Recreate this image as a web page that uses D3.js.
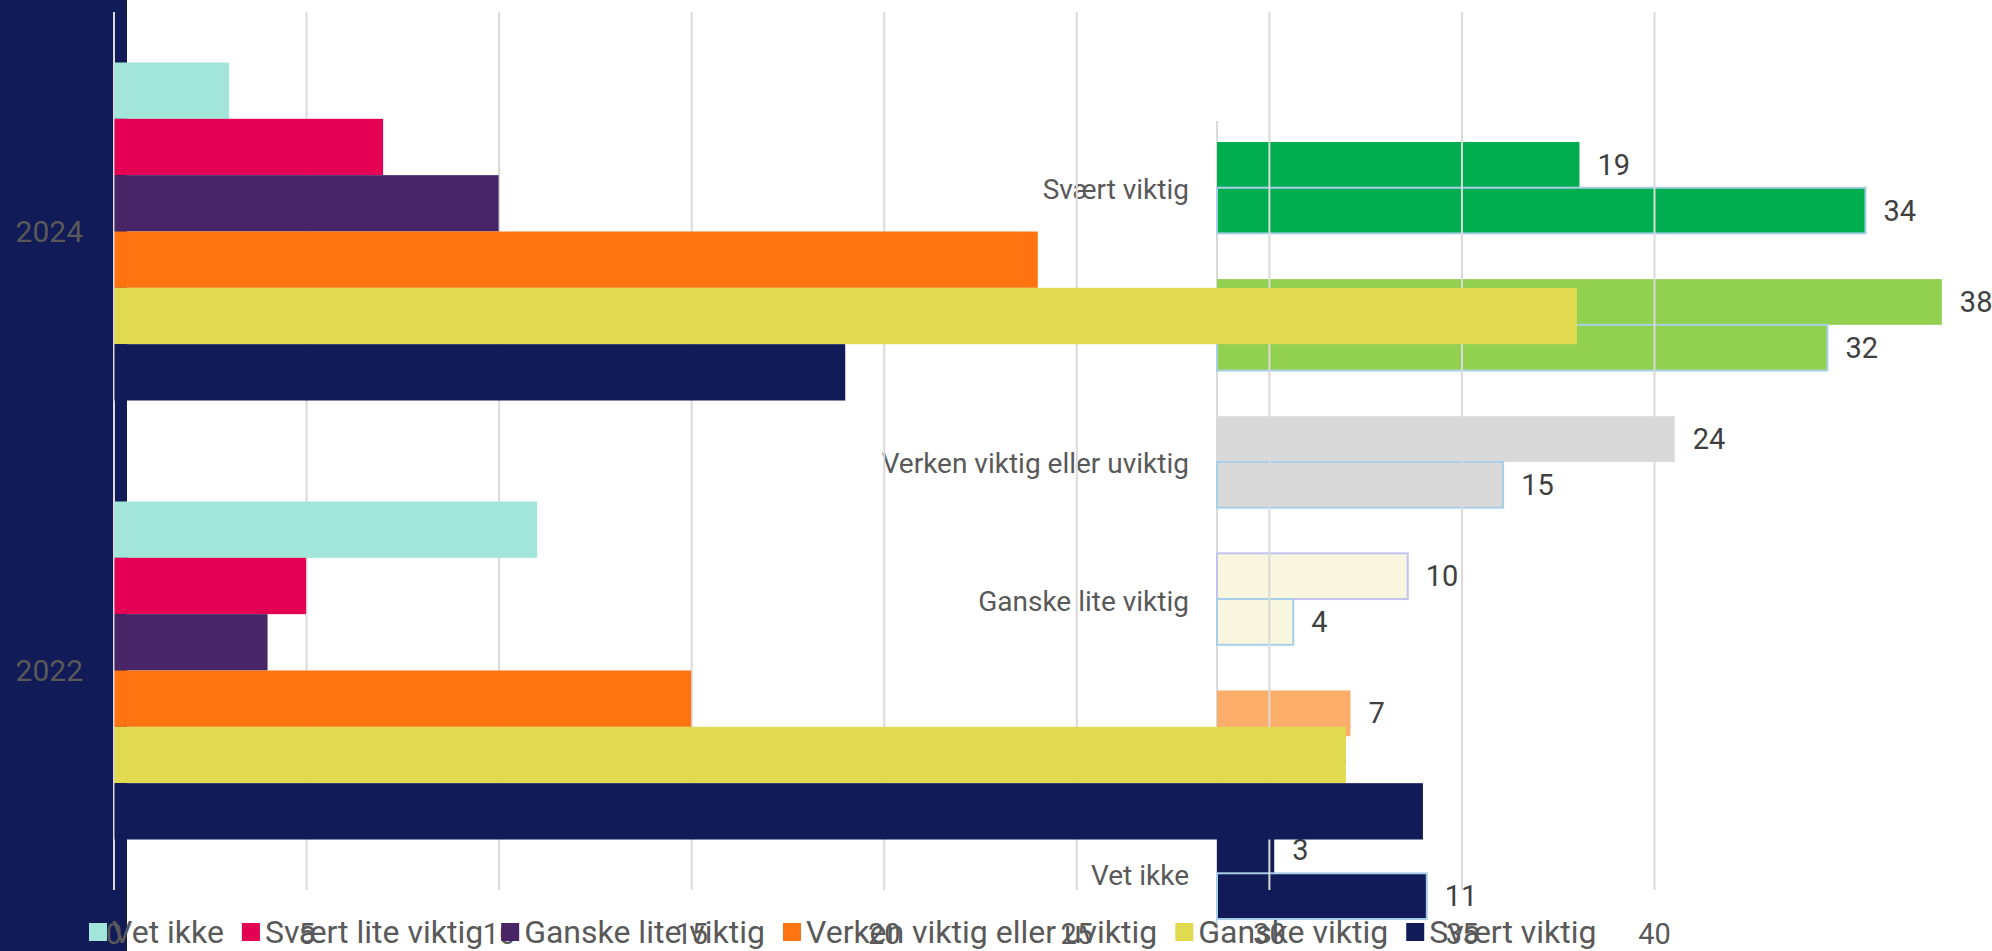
<!DOCTYPE html>
<html>
<head>
<meta charset="utf-8">
<script src="https://cdn.jsdelivr.net/npm/d3@7"></script>
<style>
  body { margin: 0; background: #fff; }
  text { font-family: Roboto, "Noto Sans", sans-serif; fill: #595959; }
</style>
</head>
<body>
<div id="chart"></div>
<script>
// Data
const years = ["2024", "2022"];
const answers = ["Vet ikke", "Svært lite viktig", "Ganske lite viktig",
                 "Verken viktig eller uviktig", "Ganske viktig", "Svært viktig"];
const values2024 = [3, 7, 10, 24, 38, 19];
const values2022 = [11, 5, 4, 15, 32, 34];
const xTicks = [0, 5, 10, 15, 20, 25, 30, 35, 40];

// colours for the grouped chart (one per answer) and the overlay chart (one per category)
const colorsA = ["#a1e6d9", "#e40052", "#472566", "#ff7411", "#e1da50", "#111b57"];
const colorsB = ["#00ae4f", "#92d050", "#d9d9d9", "#f8f6de", "#fdae6b", "#111b57"];

const width = 1992, height = 951;

const svg = d3.select("#chart")
              .append("svg")
              .attr("width", width)
              .attr("height", height);

// Scales for the grouped chart (years x answers)
const xA = d3.scaleLinear().domain([0, 40]).range([113.5, 1654]);
const yA = d3.scaleBand().domain(years).range([12, 890])
             .paddingInner(0.23).paddingOuter(0.115);
const ySeries = d3.scaleBand().domain(answers).range([0, yA.bandwidth()]);

// Scales for the overlay chart (answers x years), answers in reverse order
const catsB = answers.slice().reverse();
const xB = d3.scaleLinear().domain([0, 40]).range([1217, 1980]);
const yB = d3.scaleBand().domain(catsB).range([121, 940])
             .paddingInner(0.333).paddingOuter(0.153);
const yYear = d3.scaleBand().domain(years).range([0, yB.bandwidth()]);

const valueOf = (answer, year) => {
    const i = answers.indexOf(answer);
    return year === "2024" ? values2024[i] : values2022[i];
};

// Navy backdrop on the left
svg.append("rect")
   .attr("x", 0).attr("y", 0)
   .attr("width", xA(0) + 13.5).attr("height", height)
   .attr("fill", "#111b57");

// ---- Overlay chart (drawn first, sits underneath) ----
const gB = svg.append("g");

gB.append("line")
  .attr("x1", xB(0)).attr("x2", xB(0))
  .attr("y1", 121).attr("y2", 940)
  .attr("stroke", "#d9d9d9").attr("stroke-width", 2);

const rowsB = [];
catsB.forEach((c, ci) => {
    years.forEach(yr => rowsB.push({cat: c, year: yr, value: valueOf(c, yr), color: colorsB[ci]}));
});

gB.selectAll("rect.bar")
  .data(rowsB)
  .join("rect")
  .attr("class", "bar")
  .attr("x", xB(0))
  .attr("y", d => yB(d.cat) + yYear(d.year))
  .attr("width", d => xB(d.value) - xB(0))
  .attr("height", yYear.bandwidth())
  .attr("fill", d => d.color)
  .attr("stroke", d => d.year === "2022" ? "#a9cfe8"
                     : (d.cat === "Ganske lite viktig" ? "#c2c2f0" : "none"))
  .attr("stroke-width", 2);

gB.selectAll("text.val")
  .data(rowsB)
  .join("text")
  .attr("class", "val")
  .attr("x", d => xB(d.value) + 18)
  .attr("y", d => yB(d.cat) + yYear(d.year) + yYear.bandwidth() / 2)
  .attr("dominant-baseline", "central")
  .style("font-size", "29px")
  .style("fill", "#404040")
  .text(d => d.value);

gB.selectAll("text.cat")
  .data(catsB)
  .join("text")
  .attr("class", "cat")
  .attr("x", xB(0) - 28)
  .attr("y", d => yB(d) + yB.bandwidth() / 2 + 2)
  .attr("text-anchor", "end")
  .attr("dominant-baseline", "central")
  .style("font-size", "28px")
  .text(d => d);

// ---- Grouped chart (on top) ----
const gA = svg.append("g");

// gridlines + tick labels
const xAxis = gA.append("g")
    .attr("transform", "translate(0,890)")
    .call(d3.axisBottom(xA).tickValues(xTicks).tickSize(-(890 - 12)).tickPadding(33));
xAxis.select(".domain").remove();
xAxis.selectAll(".tick line").attr("stroke", "#d9d9d9").attr("stroke-width", 2);
xAxis.selectAll(".tick text")
     .style("font-size", "29px")
     .style("font-family", "Roboto, sans-serif")
     .attr("fill", "#595959");

const rowsA = [];
years.forEach(yr => {
    answers.forEach((a, ai) => rowsA.push({year: yr, answer: a, value: valueOf(a, yr), color: colorsA[ai]}));
});

gA.selectAll("rect.bar")
  .data(rowsA)
  .join("rect")
  .attr("class", "bar")
  .attr("x", xA(0) + 1)
  .attr("y", d => yA(d.year) + ySeries(d.answer))
  .attr("width", d => xA(d.value) - xA(0) - 1)
  .attr("height", ySeries.bandwidth())
  .attr("fill", d => d.color);

gA.selectAll("text.year")
  .data(years)
  .join("text")
  .attr("class", "year")
  .attr("x", 83)
  .attr("y", d => yA(d) + yA.bandwidth() / 2)
  .attr("text-anchor", "end")
  .attr("dominant-baseline", "central")
  .style("font-size", "30px")
  .text(d => d);

// Legend
const legend = svg.append("g").attr("transform", "translate(89,932)");
let lx = 0;
answers.forEach((a, i) => {
    const item = legend.append("g").attr("transform", `translate(${lx},0)`);
    item.append("rect")
        .attr("x", 0).attr("y", -9)
        .attr("width", 18).attr("height", 18)
        .attr("fill", colorsA[i]);
    const t = item.append("text")
        .attr("x", 23).attr("y", 0)
        .attr("dominant-baseline", "central")
        .style("font-size", "32px")
        .text(a);
    lx += 23 + t.node().getComputedTextLength() + 18;
});
</script>
</body>
</html>
